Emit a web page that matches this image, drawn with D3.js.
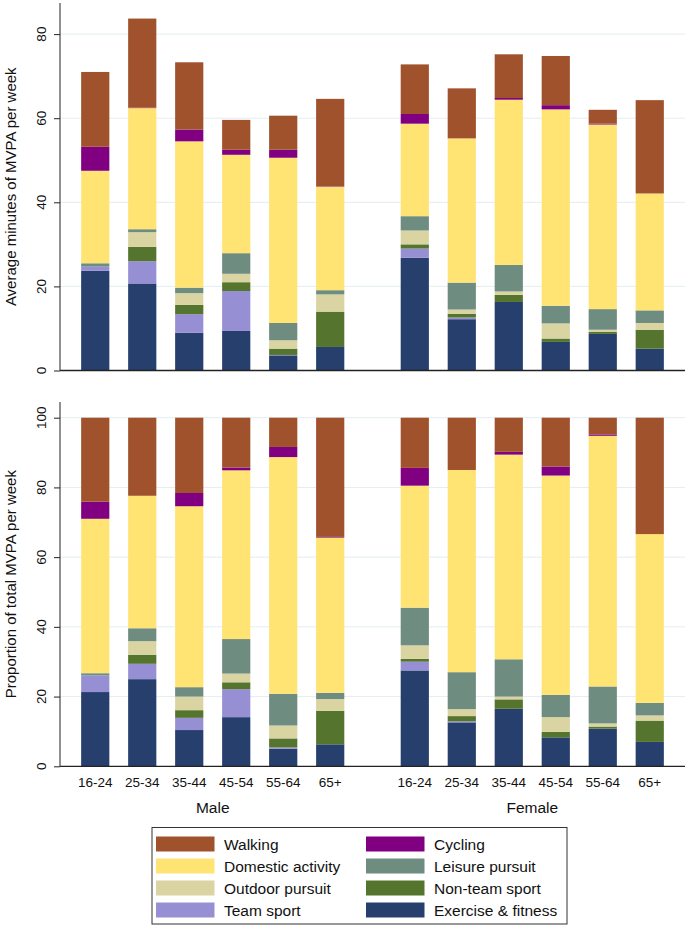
<!DOCTYPE html>
<html><head><meta charset="utf-8">
<script src="https://cdn.jsdelivr.net/npm/d3@7"></script>
<style>
body{margin:0;background:#fff;}
svg{display:block;font-family:"Liberation Sans",Arial,sans-serif;}
</style></head>
<body><svg id="chart" width="689" height="927"></svg>
<script>
// ---- data ----
const ages = ["16-24","25-34","35-44","45-54","55-64","65+"];
const sexes = ["Male","Female"];
const seriesNames = ["Exercise & fitness","Team sport","Non-team sport","Outdoor pursuit","Leisure pursuit","Domestic activity","Cycling","Walking"];
const seriesColors = ["#263f6d","#978fd3","#55752e","#d9d4a1","#6f8c80","#ffe474","#810081","#a0522d"];
const legendOrder = ["Walking","Cycling","Domestic activity","Leisure pursuit","Outdoor pursuit","Non-team sport","Team sport","Exercise & fitness"];
const minTicks = [0,20,40,60,80];
const propTicks = [0,20,40,60,80,100];

// average minutes (Male 16-24..65+, Female 16-24..65+)
const minExercise = [23.7,20.7,9.0,9.4,3.6,5.6, 26.8,12.2,16.3,6.8,8.7,5.2];
const minTeam     = [1.0,5.3,4.4,9.5,0.1,0, 2.2,0.4,0,0,0,0];
const minNonTeam  = [0,3.4,2.2,2.1,1.5,8.4, 1.0,0.9,1.7,0.8,0.5,4.5];
const minOutdoor  = [0,3.5,2.8,2.0,2.0,4.1, 3.3,1.0,0.8,3.6,0.5,1.6];
const minLeisure  = [0.8,0.7,1.3,4.9,4.1,1.0, 3.4,6.4,6.3,4.2,4.9,3.0];
const minDomestic = [22.0,28.8,34.8,23.4,39.3,24.6, 22.0,34.3,39.3,46.7,43.9,27.8];
const minCycling  = [5.7,0.1,2.8,1.2,1.9,0.1, 2.3,0,0.4,1.0,0.2,0];
const minWalking  = [17.8,21.2,16.0,7.1,8.1,20.8, 11.8,11.9,10.4,11.7,3.3,22.2];

// proportion of total MVPA
const propExercise = [21.3,25.0,10.4,14.1,5.0,6.3, 27.5,12.6,16.5,8.3,10.8,7.0];
const propTeam     = [4.8,4.4,3.5,8.0,0.4,0, 2.5,0.3,0,0,0,0];
const propNonTeam  = [0,2.6,2.2,2.0,2.6,9.6, 0.8,1.5,2.7,1.6,0.6,6.1];
const propOutdoor  = [0,3.9,3.9,2.5,3.7,3.4, 3.9,2.0,0.8,4.2,0.9,1.5];
const propLeisure  = [0.6,3.7,2.7,9.9,9.1,1.8, 10.8,10.6,10.7,6.4,10.6,3.6];
const propDomestic = [44.3,38.0,51.9,48.4,67.9,44.5, 35.0,58.0,58.7,62.9,71.9,48.4];
const propCycling  = [4.9,0,3.8,0.8,2.9,0.2, 5.1,0,0.8,2.6,0.4,0];
const propWalking  = [24.1,22.4,21.6,14.3,8.4,34.2, 14.4,15.0,9.8,14.0,4.8,33.4];

const minSeries = [minExercise,minTeam,minNonTeam,minOutdoor,minLeisure,minDomestic,minCycling,minWalking];
const propSeries = [propExercise,propTeam,propNonTeam,propOutdoor,propLeisure,propDomestic,propCycling,propWalking];

// ---- layout ----
const svg = d3.select("#chart");
const axisX0 = 60, axisX1 = 685;
const slotEnd = 13.3, sexGap = 1.8, barFrac = 0.6;
const x = d3.scaleLinear().domain([0, slotEnd]).range([axisX0, axisX1]);
const barW = x(barFrac) - x(0);
function slot(i){ const s = Math.floor(i/6), a = i%6; return 0.75 + a + s*(5 + sexGap); }
const color = d3.scaleOrdinal().domain(seriesNames).range(seriesColors);

const rows = [];
for (let i=0;i<12;i++) rows.push({idx:i});

function panel(seriesArr, ticks, yDomainMax, yBottom, yTop, title){
  const y = d3.scaleLinear().domain([0, yDomainMax]).range([yBottom, yTop]);
  const g = svg.append("g");
  // grid
  g.selectAll("line.grid").data(ticks.filter(t=>t>0)).join("line")
    .attr("x1",axisX0).attr("x2",axisX1)
    .attr("y1",d=>y(d)).attr("y2",d=>y(d))
    .attr("stroke","#e4edf1").attr("stroke-width",1);
  // stacked bars
  const table = rows.map(r=>{ const o={idx:r.idx}; seriesNames.forEach((n,k)=>o[n]=seriesArr[k][r.idx]); return o; });
  const stack = d3.stack().keys(seriesNames)(table);
  g.selectAll("g.layer").data(stack).join("g")
    .attr("fill",d=>color(d.key))
    .selectAll("rect").data(d=>d).join("rect")
    .attr("x",d=>x(slot(d.data.idx)) - barW/2)
    .attr("width",barW)
    .attr("y",d=>y(d[1]))
    .attr("height",d=>Math.max(0, y(d[0]) - y(d[1])));
  // y axis
  const ax = g.append("g").attr("transform",`translate(${axisX0},0)`)
    .call(d3.axisLeft(y).tickValues(ticks).tickSize(6).tickFormat(""));
  ax.select(".domain").attr("stroke","#222").attr("d",`M0,${yBottom}V${yTop}`);
  ax.selectAll(".tick line").attr("stroke","#222");
  // rotated tick labels
  g.selectAll("text.ylab").data(ticks).join("text").attr("class","ylab")
    .attr("transform",d=>`translate(41,${y(d)}) rotate(-90)`)
    .attr("text-anchor","middle").attr("dy","0.35em")
    .attr("font-size",13.5).attr("fill","#111")
    .text(d=>d3.format("d")(d));
  // x baseline
  g.append("line").attr("x1",axisX0).attr("x2",axisX1).attr("y1",yBottom).attr("y2",yBottom)
    .attr("stroke","#222").attr("stroke-width",1.3);
  // title
  g.append("text").attr("transform",`translate(16,${(yBottom+yTop)/2}) rotate(-90)`)
    .attr("text-anchor","middle").attr("font-size",15).attr("fill","#111").text(title);
  return y;
}

panel(minSeries, minTicks, 87.4, 370.5, 3, "Average minutes of MVPA per week");
panel(propSeries, propTicks, 104.5, 766.3, 402, "Proportion of total MVPA per week");

// x category labels
svg.append("g").selectAll("text").data(rows).join("text")
  .attr("x",d=>x(slot(d.idx))).attr("y",787)
  .attr("text-anchor","middle").attr("font-size",13.5).attr("fill","#111")
  .text(d=>ages[d.idx%6]);
svg.append("g").selectAll("text").data(sexes).join("text")
  .attr("x",(d,s)=>(x(slot(s*6))+x(slot(s*6+5)))/2).attr("y",813)
  .attr("text-anchor","middle").attr("font-size",15.5).attr("fill","#111")
  .text(d=>d);

// legend
const lg = svg.append("g");
lg.append("rect").attr("x",152).attr("y",827.5).attr("width",415).attr("height",96.5)
  .attr("fill","#fff").attr("stroke","#333").attr("stroke-width",1);
const li = lg.selectAll("g.item").data(legendOrder).join("g")
  .attr("transform",(d,i)=>`translate(${i%2===0?156:366},${844 + Math.floor(i/2)*22})`);
li.append("rect").attr("x",0).attr("y",-7.5).attr("width",58.5).attr("height",15).attr("fill",d=>color(d));
li.append("text").attr("x",68).attr("y",0).attr("dy","0.36em").attr("font-size",15.5).attr("fill","#111").text(d=>d);
</script></body></html>
